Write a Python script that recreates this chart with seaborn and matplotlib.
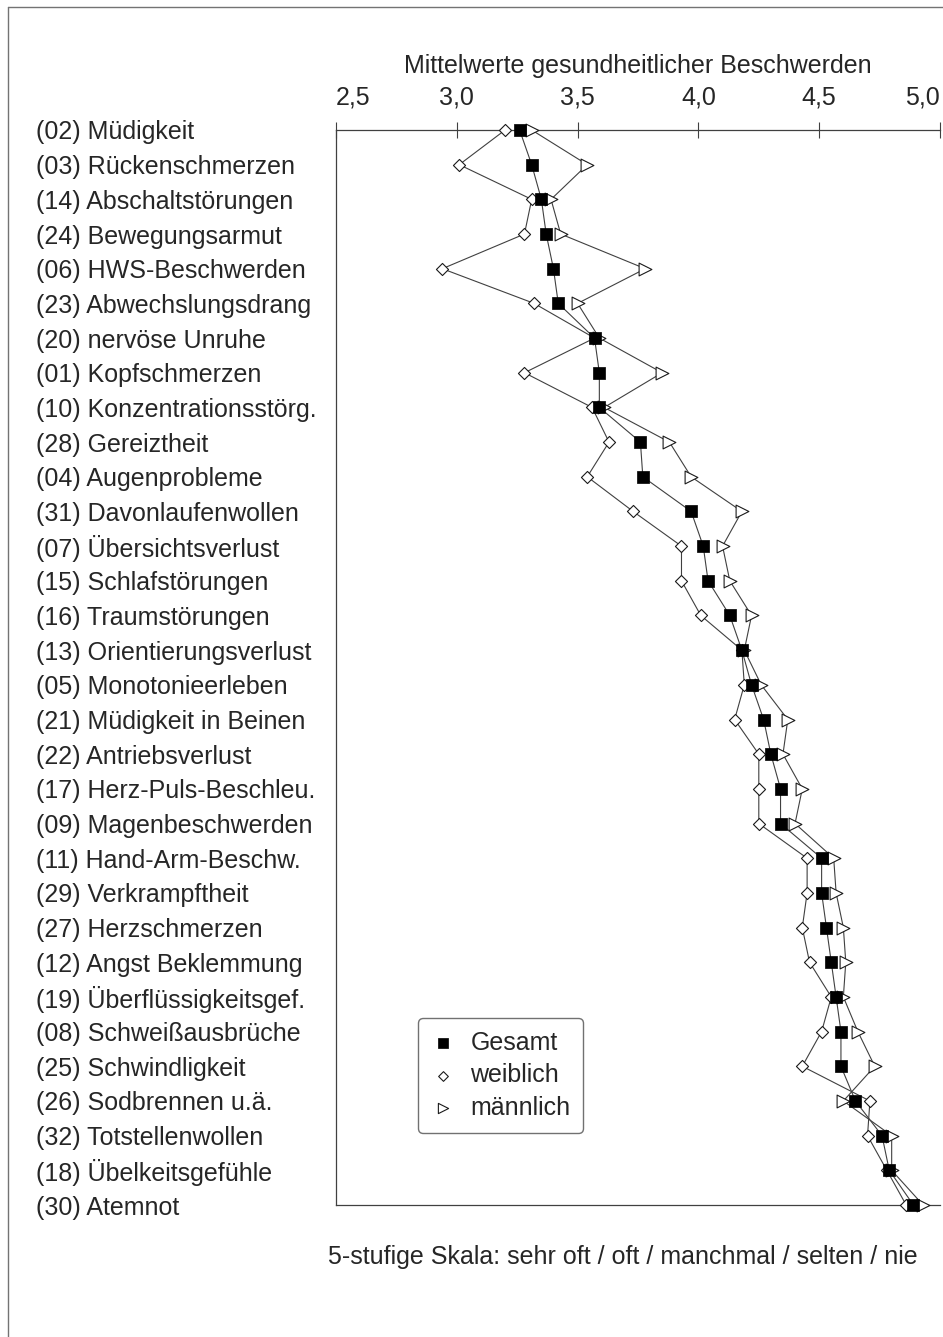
import numpy as np
import pandas as pd
import seaborn as sns
import matplotlib.pyplot as plt
from matplotlib.lines import Line2D

# Beschwerden (Reihenfolge wie im Original, von oben nach unten)
labels = [
    "(02) Müdigkeit", "(03) Rückenschmerzen", "(14) Abschaltstörungen",
    "(24) Bewegungsarmut", "(06) HWS-Beschwerden", "(23) Abwechslungsdrang",
    "(20) nervöse Unruhe", "(01) Kopfschmerzen", "(10) Konzentrationsstörg.",
    "(28) Gereiztheit", "(04) Augenprobleme", "(31) Davonlaufenwollen",
    "(07) Übersichtsverlust", "(15) Schlafstörungen", "(16) Traumstörungen",
    "(13) Orientierungsverlust", "(05) Monotonieerleben", "(21) Müdigkeit in Beinen",
    "(22) Antriebsverlust", "(17) Herz-Puls-Beschleu.", "(09) Magenbeschwerden",
    "(11) Hand-Arm-Beschw.", "(29) Verkrampftheit", "(27) Herzschmerzen",
    "(12) Angst Beklemmung", "(19) Überflüssigkeitsgef.", "(08) Schweißausbrüche",
    "(25) Schwindligkeit", "(26) Sodbrennen u.ä.", "(32) Totstellenwollen",
    "(18) Übelkeitsgefühle", "(30) Atemnot",
]

gesamt = [3.26, 3.31, 3.35, 3.37, 3.40, 3.42, 3.57, 3.59, 3.59, 3.76, 3.77,
          3.97, 4.02, 4.04, 4.13, 4.18, 4.22, 4.27, 4.30, 4.34, 4.34, 4.51,
          4.51, 4.53, 4.55, 4.57, 4.59, 4.59, 4.65, 4.76, 4.79, 4.89]
weiblich = [3.20, 3.01, 3.31, 3.28, 2.94, 3.32, 3.57, 3.28, 3.56, 3.63, 3.54,
            3.73, 3.93, 3.93, 4.01, 4.18, 4.19, 4.15, 4.25, 4.25, 4.25, 4.45,
            4.45, 4.43, 4.46, 4.55, 4.51, 4.43, 4.71, 4.70, 4.78, 4.86]
maennlich = [3.31, 3.54, 3.39, 3.43, 3.78, 3.50, 3.59, 3.85, 3.61, 3.88, 3.97,
             4.18, 4.10, 4.13, 4.22, 4.19, 4.26, 4.37, 4.35, 4.43, 4.40, 4.56,
             4.57, 4.60, 4.61, 4.60, 4.66, 4.73, 4.60, 4.80, 4.80, 4.93]

xticks = [2.5, 3.0, 3.5, 4.0, 4.5, 5.0]
xticklabels = ["2,5", "3,0", "3,5", "4,0", "4,5", "5,0"]

sns.set_style("white")
plt.rcParams['font.family'] = ['Liberation Sans', 'DejaVu Sans']
plt.rcParams['font.size'] = 18

pos = np.arange(len(labels))
df = pd.DataFrame({"pos": pos, "Gesamt": gesamt, "weiblich": weiblich,
                   "männlich": maennlich})

fig = plt.figure(figsize=(9.43, 13.37), dpi=100)
ax = fig.add_axes([336 / 943, 1 - 1205 / 1337, (940 - 336) / 943, (1205 - 130) / 1337])

line_kw = dict(color="0.25", lw=0.8, sort=False, estimator=None, ax=ax, zorder=2)
for col in ["weiblich", "männlich", "Gesamt"]:
    sns.lineplot(data=df, x=col, y="pos", **line_kw)

sns.scatterplot(data=df, x="weiblich", y="pos", marker="D", s=38, color="white",
                edgecolor="0.1", linewidth=0.8, ax=ax, zorder=3, label="weiblich")
sns.scatterplot(data=df, x="männlich", y="pos", marker=">", s=85, color="white",
                edgecolor="0.1", linewidth=0.8, ax=ax, zorder=3, label="männlich")
sns.scatterplot(data=df, x="Gesamt", y="pos", marker="s", s=80, color="black",
                edgecolor="black", linewidth=0.5, ax=ax, zorder=4, label="Gesamt")
for art in ax.lines + ax.collections:
    art.set_clip_on(False)

ax.set_xlim(2.5, 5.0)
ax.set_ylim(len(labels) - 1, 0)

ax.xaxis.tick_top()
ax.xaxis.set_label_position("top")
ax.set_xticks(xticks)
ax.set_xticklabels(xticklabels)
ax.set_xlabel("Mittelwerte gesundheitlicher Beschwerden", labelpad=9)
ax.tick_params(axis="x", direction="inout", length=12, width=0.8, color="0.25", pad=9)
xt = ax.get_xticklabels()
xt[0].set_horizontalalignment("left")
xt[-1].set_horizontalalignment("right")

ax.set_yticks(pos)
ax.set_yticklabels(labels)
ax.set_ylabel("")
ax.tick_params(axis="y", direction="inout", length=12, width=0.8, color="0.25", pad=210)
for t in ax.get_yticklabels():
    t.set_horizontalalignment("left")

for side in ["top", "left", "bottom"]:
    ax.spines[side].set_color("0.25")
    ax.spines[side].set_linewidth(0.9)
ax.spines["right"].set_visible(False)

h, l = ax.get_legend_handles_labels()
order = [l.index("Gesamt"), l.index("weiblich"), l.index("männlich")]
leg = ax.legend([h[i] for i in order], [l[i] for i in order],
                loc="upper left", bbox_to_anchor=(418 / 943, 1 - 1018 / 1337),
                bbox_transform=fig.transFigure, borderaxespad=0, fontsize=18,
                markerscale=0.8, labelspacing=0.35, handlelength=1.0,
                handletextpad=0.6, borderpad=0.5, fancybox=True)
leg.get_frame().set_edgecolor("0.3")
leg.get_frame().set_linewidth(1.0)

fig.text(623 / 943, 1 - 1257 / 1337,
         "5-stufige Skala: sehr oft / oft / manchmal / selten / nie",
         ha="center", va="center", fontsize=18)

# Rahmen oben und links
fig.add_artist(Line2D([8 / 943, 1], [1 - 7 / 1337] * 2, transform=fig.transFigure,
                      color="0.45", lw=1))
fig.add_artist(Line2D([8 / 943] * 2, [1 - 7 / 1337, 0], transform=fig.transFigure,
                      color="0.45", lw=1))

fig.savefig("out.png", dpi=100)
